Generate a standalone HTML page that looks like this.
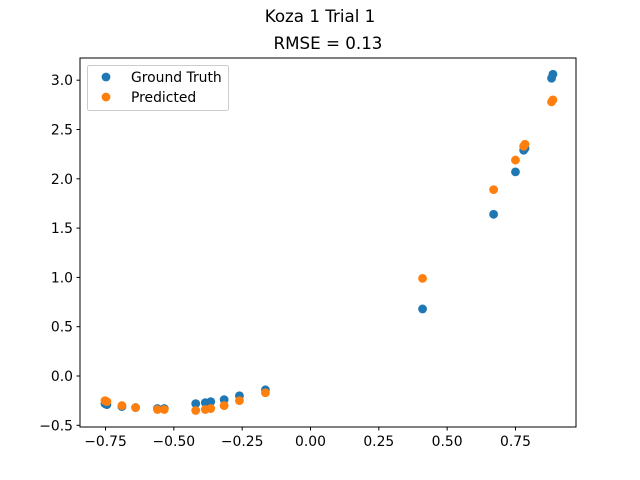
<!DOCTYPE html>
<html><head><meta charset="utf-8"><style>
body{margin:0;background:#fff}
svg{display:block;font-family:"DejaVu Sans","Liberation Sans",sans-serif}
</style></head><body>
<svg id="chart" width="640" height="480">
<text x="320" y="22" font-size="16.7" text-anchor="middle">Koza 1 Trial 1</text>
<text x="328" y="49" font-size="16.7" text-anchor="middle">RMSE = 0.13</text>
<g id="ticks"></g>
<g id="marks"></g>
<rect x="80" y="58" width="496" height="369" fill="none" stroke="#000" stroke-width="1"/>
<g>
<rect x="87.5" y="65.5" width="141" height="45" rx="2" fill="#fff" fill-opacity="0.8" stroke="#ccc"/>
<circle cx="106" cy="77" r="4.4" fill="#1f77b4"/>
<text x="131" y="82" font-size="13.9">Ground Truth</text>
<circle cx="106" cy="97" r="4.4" fill="#ff7f0e"/>
<text x="131" y="102" font-size="13.9">Predicted</text>
</g>
</svg>
<script>
const xVals=[-0.752,-0.745,-0.69,-0.64,-0.56,-0.535,-0.42,-0.385,-0.365,-0.316,-0.26,-0.165,0.41,0.67,0.75,0.78,0.785,0.882,0.887];
const groundTruth=[-0.28,-0.29,-0.31,-0.32,-0.33,-0.33,-0.28,-0.27,-0.26,-0.24,-0.20,-0.14,0.68,1.64,2.07,2.29,2.31,3.02,3.06];
const predicted=[-0.25,-0.26,-0.30,-0.32,-0.34,-0.34,-0.35,-0.34,-0.33,-0.30,-0.25,-0.17,0.99,1.89,2.19,2.33,2.35,2.78,2.80];
const xTicks=[-0.75,-0.5,-0.25,0,0.25,0.5,0.75];
const xTickLabels=["−0.75","−0.50","−0.25","0.00","0.25","0.50","0.75"];
const yTicks=[-0.5,0,0.5,1,1.5,2,2.5,3];
const yTickLabels=["−0.5","0.0","0.5","1.0","1.5","2.0","2.5","3.0"];
const NS="http://www.w3.org/2000/svg";
const sx=v=>310.5+v*273.3;
const sy=v=>376-v*98.6;
const tg=document.getElementById('ticks'),mg=document.getElementById('marks');
function mk(tag,attrs,parent){const e=document.createElementNS(NS,tag);for(const k in attrs)e.setAttribute(k,attrs[k]);parent.appendChild(e);return e;}
xTicks.forEach((t,i)=>{
 const l=mk('line',{x1:sx(t),x2:sx(t),y1:427,y2:430.5,stroke:'#000'},tg);
 
 
 const tx=mk('text',{x:sx(t),y:446,'font-size':'13.9','text-anchor':'middle'},tg);
 tx.textContent=xTickLabels[i];
 
 
});
yTicks.forEach((t,i)=>{
 const l=mk('line',{x1:76.5,x2:80,y1:sy(t),y2:sy(t),stroke:'#000'},tg);
 
 
 const tx=mk('text',{x:73,y:sy(t)+5,'font-size':'13.9','text-anchor':'end'},tg);
 tx.textContent=yTickLabels[i];
 
 
});
xVals.forEach((x,i)=>{
 const c=mk('circle',{cx:sx(x),cy:sy(groundTruth[i]),r:4.4,fill:'#1f77b4'},mg);
 
 
});
xVals.forEach((x,i)=>{
 const c=mk('circle',{cx:sx(x),cy:sy(predicted[i]),r:4.4,fill:'#ff7f0e'},mg);
 
 
});
</script>
</body></html>
